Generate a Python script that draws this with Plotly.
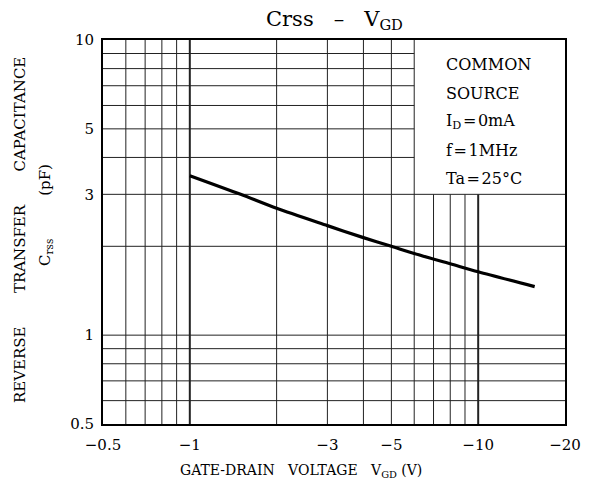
import plotly.graph_objects as go
import math

# ---- data ----
vgd = [-1, -1.5, -2, -3, -4, -5, -6, -8, -10, -15.7]
crss = [3.47, 3.00, 2.69, 2.35, 2.14, 2.0, 1.89, 1.745, 1.64, 1.46]

x_tickvals = [0.5, 1, 3, 5, 10, 20]
x_ticktext = ["\u22120.5", "\u22121", "\u22123", "\u22125", "\u221210", "\u221220"]
y_tickvals = [0.5, 1, 3, 5, 10]
y_ticktext = ["0.5", "1", "3", "5", "10"]

# grid lines (|V| and pF values)
x_grid_full = [0.6, 0.7, 0.8, 0.9, 1, 2, 3, 4, 5, 6]
x_grid_short = [7, 8, 9, 10]          # stop at the condition box (C = 3)
y_grid_full = [0.6, 0.7, 0.8, 0.9, 1, 2, 3]
y_grid_short = [4, 5, 6, 7, 8, 9]     # stop at the condition box (|V| = 6)
x_major = [1, 10]

box_lines = ["COMMON", "SOURCE", "I<sub>D</sub>\u200a=\u200a0mA", "f\u200a=\u200a1MHz", "Ta\u200a=\u200a25\u00b0C"]

FONT = "DejaVu Serif"
OFF = 8  # page body margin

fig = go.Figure()
fig.add_trace(go.Scatter(
    x=[abs(v) for v in vgd], y=crss, mode="lines",
    line=dict(color="black", width=3.2, shape="spline", smoothing=0.8),
    showlegend=False, hoverinfo="skip"))

shapes = []
def vline(x, y0, y1, w):
    shapes.append(dict(type="line", xref="x", yref="y", x0=x, x1=x, y0=y0, y1=y1,
                       line=dict(color="#222", width=w), layer="below"))
def hline(y, x0, x1, w):
    shapes.append(dict(type="line", xref="x", yref="y", x0=x0, x1=x1, y0=y, y1=y,
                       line=dict(color="#222", width=w), layer="below"))

for xv in x_grid_full:
    vline(xv, 0.5, 10, 2 if xv in x_major else 1)
for xv in x_grid_short:
    vline(xv, 0.5, 3, 2 if xv in x_major else 1)
for yv in y_grid_full:
    hline(yv, 0.5, 20, 1)
for yv in y_grid_short:
    hline(yv, 0.5, 6, 1)

def px(xp):
    return (xp - 103) / 462
def py(yp):
    return (424 - yp) / 384

NB = "\u00a0"
annotations = []
# title
annotations.append(dict(text="Crss" + NB * 3 + "\u2013" + NB * 3 + "V<sub>GD</sub>",
                        xref="paper", yref="paper",
                        x=0.5, y=py(20), xanchor="center", yanchor="middle", showarrow=False,
                        font=dict(family=FONT, size=21, color="black")))
# x title
annotations.append(dict(text="GATE-DRAIN" + NB * 3 + "VOLTAGE" + NB * 3 + "V<sub>GD</sub>" + NB + "(V)",
                        xref="paper", yref="paper", x=px(178), y=py(471), xanchor="left",
                        yanchor="middle", showarrow=False,
                        font=dict(family=FONT, size=14, color="black")))
# y title lines
annotations.append(dict(text="REVERSE" + NB * 7 + "TRANSFER" + NB * 7 + "CAPACITANCE",
                        xref="paper", yref="paper", x=px(20), y=py(230),
                        xanchor="center", yanchor="middle", textangle=-90, showarrow=False,
                        font=dict(family=FONT, size=15, color="black")))
annotations.append(dict(text="C<sub>rss</sub>" + NB * 9 + "(pF)",
                        xref="paper", yref="paper", x=px(45), y=py(215),
                        xanchor="center", yanchor="middle", textangle=-90, showarrow=False,
                        font=dict(family=FONT, size=15, color="black")))
# condition box
box_y = [65, 93, 122, 150, 178]
for t, yy in zip(box_lines, box_y):
    annotations.append(dict(text=t, xref="paper", yref="paper", x=px(444),
                            y=py(yy), xanchor="left", yanchor="middle",
                            showarrow=False, font=dict(family=FONT, size=16, color="black")))

fig.update_layout(
    width=597 - OFF, height=490 - OFF,
    margin=dict(l=103 - OFF, r=32, t=40 - OFF, b=66),
    paper_bgcolor="white", plot_bgcolor="white",
    shapes=shapes, annotations=annotations,
    font=dict(family=FONT, size=14, color="black"),
    xaxis=dict(type="log", range=[math.log10(0.5), math.log10(20)],
               tickvals=x_tickvals, ticktext=x_ticktext, showgrid=False, zeroline=False,
               ticks="", showline=True, linecolor="black", linewidth=2, mirror=True,
               ticklabelstandoff=6, tickfont=dict(family=FONT, size=15, color="black")),
    yaxis=dict(type="log", range=[math.log10(0.5), 1],
               tickvals=y_tickvals, ticktext=y_ticktext, showgrid=False, zeroline=False,
               ticks="", showline=True, linecolor="black", linewidth=2, mirror=True,
               ticklabelstandoff=4, tickfont=dict(family=FONT, size=15, color="black")),
)

fig.write_html("out.html")
